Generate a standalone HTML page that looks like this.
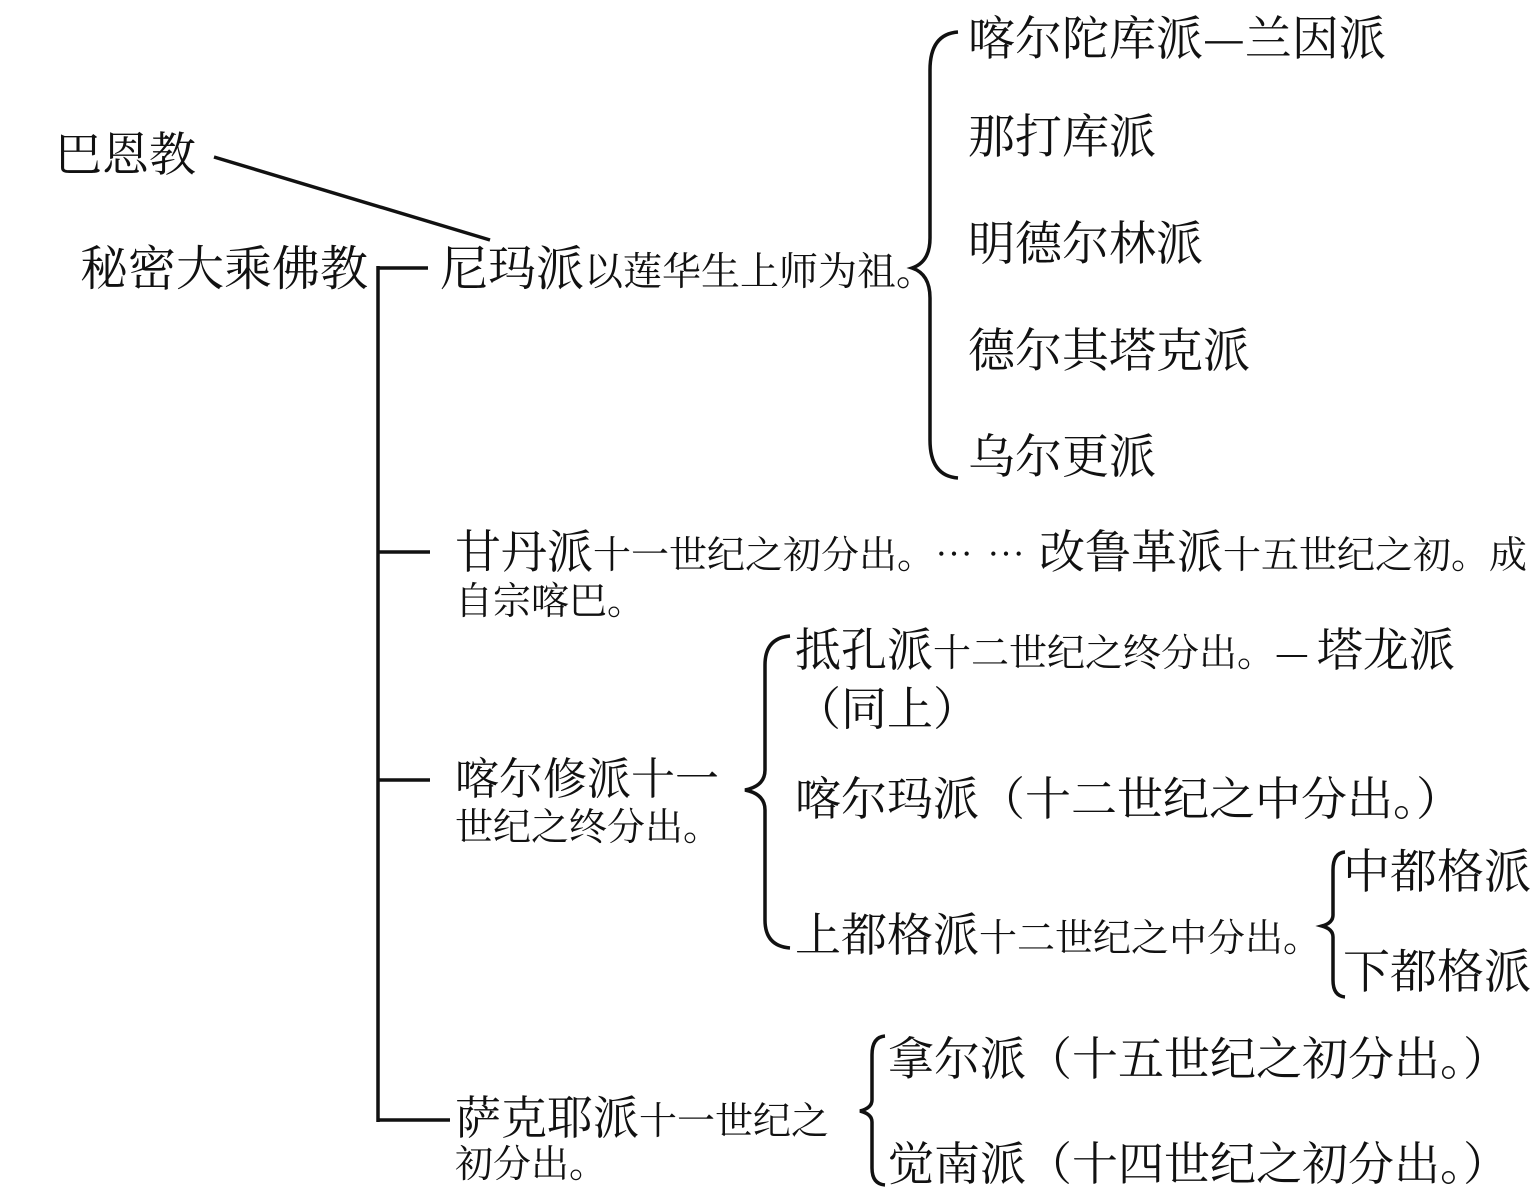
<!DOCTYPE html>
<html><head><meta charset="utf-8"><style>
html,body{margin:0;padding:0;background:#fff;}
body{width:1536px;height:1198px;position:relative;overflow:hidden;font-family:"Liberation Serif","Noto Serif CJK SC",serif;color:#111;}
.t{position:absolute;white-space:nowrap;font-size:46px;line-height:1;}
.s{font-size:38px;}
.c{font-family:"Noto Serif CJK SC",serif;}
svg{position:absolute;left:0;top:0;}
</style></head><body>
<svg width="1536" height="1198" fill="none" stroke="#111" stroke-width="3.5">
<line x1="214" y1="157" x2="490" y2="240"/>
<line x1="378" y1="268" x2="428" y2="268"/>
<line x1="378" y1="266" x2="378" y2="1122"/>
<line x1="378" y1="552" x2="430" y2="552"/>
<line x1="378" y1="780" x2="430" y2="780"/>
<line x1="378" y1="1120" x2="450" y2="1120"/>
<path d="M958 32 Q930 34 930 70 L930 238 Q930 262 912 268 Q930 274 930 298 L930 440 Q930 476 958 478"/>
<path d="M790 636 Q765 638 765 665 L765 770 Q765 786 745 790 Q765 794 765 810 L765 920 Q765 946 790 948"/>
<path d="M1345 852 Q1333 853 1333 870 L1333 915 Q1333 923 1322 926 Q1333 929 1333 937 L1333 980 Q1333 996 1345 997"/>
<path d="M885 1036 Q872 1037 872 1055 L872 1100 Q872 1108 860 1111 Q872 1114 872 1122 L872 1168 Q872 1184 885 1185"/>
</svg>
<div class="t" style="left:55px;top:133px;font-size:47px">巴恩教</div>
<div class="t" style="left:80px;top:246px;font-size:48px">秘密大乘佛教</div>
<div class="t" style="left:440px;top:246px;font-size:48px">尼玛派<span class="s" style="font-size:39px">以莲华生上师为祖。</span></div>
<div class="t c" style="left:968px;top:12px;font-size:47px">喀尔陀库派—兰因派</div>
<div class="t" style="left:968px;top:115px;font-size:47px">那打库派</div>
<div class="t" style="left:968px;top:222px;font-size:47px">明德尔林派</div>
<div class="t" style="left:968px;top:329px;font-size:47px">德尔其塔克派</div>
<div class="t" style="left:968px;top:435px;font-size:47px">乌尔更派</div>
<div class="t" style="left:455px;top:530px">甘丹派<span class="s">十一世纪之初分出。<span class="c" style="letter-spacing:14px">……</span></span>改鲁革派<span class="s">十五世纪之初。成</span></div>
<div class="t s" style="left:455px;top:583px">自宗喀巴。</div>
<div class="t" style="left:795px;top:628px">抵孔派<span class="s">十二世纪之终分出。<span class="c" style="letter-spacing:8px">—</span></span>塔龙派</div>
<div class="t c" style="left:795px;top:683px">（同上）</div>
<div class="t" style="left:455px;top:758px;font-size:44px">喀尔修派十一</div>
<div class="t s" style="left:455px;top:809px">世纪之终分出。</div>
<div class="t c" style="left:795px;top:773px">喀尔玛派（十二世纪之中分出。）</div>
<div class="t" style="left:795px;top:913px">上都格派<span class="s">十二世纪之中分出。</span></div>
<div class="t" style="left:1343px;top:850px;font-size:47px">中都格派</div>
<div class="t" style="left:1343px;top:950px;font-size:47px">下都格派</div>
<div class="t" style="left:455px;top:1096px">萨克耶派<span class="s">十一世纪之</span></div>
<div class="t s" style="left:455px;top:1146px">初分出。</div>
<div class="t c" style="left:888px;top:1033px">拿尔派（十五世纪之初分出。）</div>
<div class="t c" style="left:888px;top:1138px">觉南派（十四世纪之初分出。）</div>
</body></html>
